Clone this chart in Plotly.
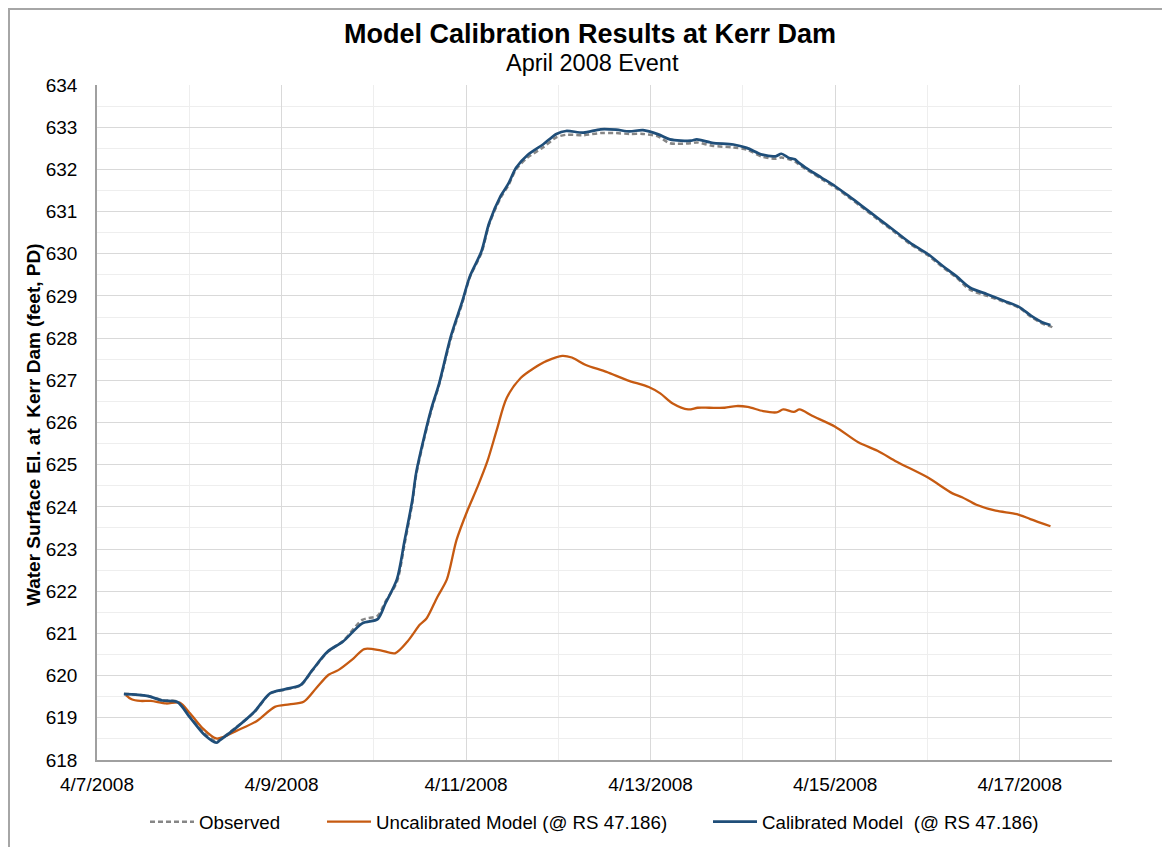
import plotly.graph_objects as go

# DATA
cal_times = [
    "2008-04-07 07:00", "2008-04-07 13:00", "2008-04-07 17:00", "2008-04-07 21:00",
    "2008-04-08 00:00", "2008-04-08 04:00", "2008-04-08 07:00", "2008-04-08 08:00",
    "2008-04-08 12:00", "2008-04-08 17:00", "2008-04-08 21:00", "2008-04-09 01:00",
    "2008-04-09 05:00", "2008-04-09 08:00", "2008-04-09 12:00", "2008-04-09 16:00",
    "2008-04-09 21:00", "2008-04-10 01:00", "2008-04-10 03:00", "2008-04-10 06:00",
    "2008-04-10 08:00", "2008-04-10 10:00", "2008-04-10 11:00", "2008-04-10 13:00",
    "2008-04-10 15:00", "2008-04-10 17:00", "2008-04-10 20:00", "2008-04-10 23:00",
    "2008-04-11 01:00", "2008-04-11 04:00", "2008-04-11 06:00", "2008-04-11 09:00",
    "2008-04-11 11:00", "2008-04-11 13:00", "2008-04-11 16:00", "2008-04-11 20:00",
    "2008-04-11 23:30", "2008-04-12 02:00", "2008-04-12 06:30", "2008-04-12 11:00",
    "2008-04-12 15:00", "2008-04-12 18:30", "2008-04-12 22:00", "2008-04-13 02:00",
    "2008-04-13 05:00", "2008-04-13 10:30", "2008-04-13 12:00", "2008-04-13 16:00",
    "2008-04-13 21:30", "2008-04-14 01:00", "2008-04-14 05:00", "2008-04-14 08:30",
    "2008-04-14 10:00", "2008-04-14 12:00", "2008-04-14 13:30", "2008-04-14 14:30",
    "2008-04-14 17:00", "2008-04-14 20:30", "2008-04-15 00:00", "2008-04-15 03:30",
    "2008-04-15 07:00", "2008-04-15 11:00", "2008-04-15 15:30", "2008-04-15 19:30",
    "2008-04-16 00:00", "2008-04-16 04:00", "2008-04-16 07:30", "2008-04-16 11:00",
    "2008-04-16 15:30", "2008-04-16 20:00", "2008-04-17 00:00", "2008-04-17 03:00",
    "2008-04-17 06:30", "2008-04-17 08:00",
]

calibrated = [
    619.56, 619.52, 619.41, 619.37,
    619.03, 618.59, 618.41, 618.47,
    618.75, 619.15, 619.58, 619.68,
    619.78, 620.13, 620.57, 620.81,
    621.24, 621.34, 621.71, 622.28,
    623.20, 624.15, 624.80, 625.62,
    626.34, 626.93, 628.03, 628.87,
    629.47, 630.06, 630.73, 631.37,
    631.66, 632.04, 632.34, 632.59,
    632.84, 632.91, 632.87, 632.95,
    632.94, 632.90, 632.93, 632.83,
    632.71, 632.68, 632.71, 632.63,
    632.59, 632.51, 632.35, 632.31,
    632.37, 632.27, 632.24, 632.16,
    632.00, 631.80, 631.60, 631.37,
    631.13, 630.85, 630.54, 630.26,
    630.00, 629.71, 629.47, 629.20,
    629.04, 628.88, 628.73, 628.53,
    628.35, 628.31,
]

obs_times = cal_times + ["2008-04-17 08:45"]
observed = [
    619.57, 619.52, 619.42, 619.38,
    619.06, 618.63, 618.44, 618.49,
    618.76, 619.14, 619.57, 619.67,
    619.77, 620.12, 620.56, 620.82,
    621.32, 621.42, 621.75, 622.22,
    623.12, 624.09, 624.75, 625.58,
    626.30, 626.90, 627.98, 628.83,
    629.45, 630.02, 630.70, 631.33,
    631.62, 632.00, 632.28, 632.52,
    632.76, 632.82, 632.81, 632.86,
    632.86, 632.84, 632.84, 632.78,
    632.62, 632.62, 632.64, 632.56,
    632.52, 632.47, 632.30, 632.25,
    632.28, 632.24, 632.19, 632.12,
    631.97, 631.77, 631.57, 631.34,
    631.10, 630.82, 630.51, 630.23,
    629.97, 629.68, 629.44, 629.15,
    629.00, 628.86, 628.71, 628.50,
    628.32, 628.28, 628.24,
]

uncal_times = [
    "2008-04-07 07:30", "2008-04-07 09:00", "2008-04-07 11:15", "2008-04-07 14:00",
    "2008-04-07 18:00", "2008-04-07 21:30", "2008-04-08 00:15", "2008-04-08 03:30",
    "2008-04-08 07:00", "2008-04-08 09:00", "2008-04-08 12:15", "2008-04-08 17:30",
    "2008-04-08 22:15", "2008-04-09 02:00", "2008-04-09 05:45", "2008-04-09 09:00",
    "2008-04-09 12:15", "2008-04-09 14:45", "2008-04-09 18:45", "2008-04-09 21:30",
    "2008-04-10 01:45", "2008-04-10 05:30", "2008-04-10 08:45", "2008-04-10 12:00",
    "2008-04-10 13:45", "2008-04-10 16:30", "2008-04-10 19:00", "2008-04-10 21:30",
    "2008-04-11 00:15", "2008-04-11 03:00", "2008-04-11 05:30", "2008-04-11 08:00",
    "2008-04-11 10:30", "2008-04-11 14:15", "2008-04-11 17:30", "2008-04-11 21:00",
    "2008-04-12 01:00", "2008-04-12 03:30", "2008-04-12 07:00", "2008-04-12 12:30",
    "2008-04-12 18:00", "2008-04-12 23:30", "2008-04-13 02:30", "2008-04-13 05:45",
    "2008-04-13 09:45", "2008-04-13 12:15", "2008-04-13 15:15", "2008-04-13 19:15",
    "2008-04-13 22:15", "2008-04-14 01:15", "2008-04-14 05:15", "2008-04-14 08:45",
    "2008-04-14 10:30", "2008-04-14 13:15", "2008-04-14 14:45", "2008-04-14 18:00",
    "2008-04-15 00:00", "2008-04-15 06:00", "2008-04-15 11:00", "2008-04-15 16:00",
    "2008-04-16 00:00", "2008-04-16 06:30", "2008-04-16 09:00", "2008-04-16 12:45",
    "2008-04-16 17:45", "2008-04-16 23:15", "2008-04-17 02:45", "2008-04-17 08:00",
]

uncalibrated = [
    619.54, 619.44, 619.40, 619.40,
    619.34, 619.36, 619.10, 618.75,
    618.51, 618.55, 618.69, 618.92,
    619.26, 619.32, 619.38, 619.70,
    620.02, 620.13, 620.41, 620.63,
    620.60, 620.53, 620.81, 621.21,
    621.36, 621.86, 622.28, 623.21,
    623.89, 624.48, 625.07, 625.83,
    626.57, 627.06, 627.28, 627.46,
    627.58, 627.54, 627.37, 627.20,
    627.00, 626.84, 626.69, 626.45,
    626.31, 626.35, 626.35, 626.35,
    626.39, 626.37, 626.27, 626.24,
    626.31, 626.25, 626.31, 626.16,
    625.90, 625.53, 625.33, 625.07,
    624.70, 624.32, 624.23, 624.05,
    623.91, 623.83, 623.71, 623.54,
]

FONT = "Arial, Liberation Sans, sans-serif"

# the page body adds an 8px margin, so the figure is a little smaller
OFF = 8
W, H = 1170 - OFF, 847 - OFF
L, R, T, B = 97 - OFF, 58, 85 - OFF, 87
PW, PH = W - L - R, H - T - B


# reference pixel -> paper coords, for text placement
def px(x):
    return (x - OFF - L) / PW


def py(y):
    return (H - B - (y - OFF)) / PH


fig = go.Figure()

fig.add_trace(go.Scatter(
    x=obs_times, y=observed, mode="lines", name="Observed",
    line=dict(color="#868686", width=2.5, dash="5px,3px", shape="spline", smoothing=0.8),
    legend="legend",
))
fig.add_trace(go.Scatter(
    x=uncal_times, y=uncalibrated, mode="lines", name="Uncalibrated Model (@ RS 47.186)",
    line=dict(color="#C65A11", width=2.3, shape="spline", smoothing=0.8),
    legend="legend2",
))
fig.add_trace(go.Scatter(
    x=cal_times, y=calibrated, mode="lines", name="Calibrated Model  (@ RS 47.186)",
    line=dict(color="#1F4E79", width=2.7, shape="spline", smoothing=0.8),
    legend="legend3",
))

leg = dict(orientation="h", yanchor="middle", y=py(822), xanchor="left",
           font=dict(family=FONT, size=18.7, color="#000"), bgcolor="rgba(0,0,0,0)",
           itemwidth=44)

fig.update_layout(
    width=W, height=H,
    margin=dict(l=L, r=R, t=T, b=B, autoexpand=False),
    paper_bgcolor="white", plot_bgcolor="white",
    font=dict(family=FONT, size=18.7, color="#000"),
    showlegend=True,
    legend=dict(leg, x=px(145)),
    legend2=dict(leg, x=px(322)),
    legend3=dict(leg, x=px(708)),
    xaxis=dict(
        type="date",
        range=["2008-04-07", "2008-04-18"],
        tick0="2008-04-07", dtick=2 * 86400000,
        tickformat="%-m/%-d/%Y",
        showgrid=True, gridcolor="#d9d9d9", gridwidth=1,
        minor=dict(dtick=86400000, showgrid=True, gridcolor="#eeeeee"),
        showline=True, linecolor="#a0a0a0", linewidth=1.5,
        ticks="", ticklabelstandoff=6,
        tickfont=dict(family=FONT, size=19, color="#000"),
        zeroline=False,
    ),
    yaxis=dict(
        range=[618, 634], dtick=1,
        showgrid=True, gridcolor="#d9d9d9", gridwidth=1,
        minor=dict(dtick=0.5, showgrid=True, gridcolor="#eeeeee"),
        showline=True, linecolor="#a0a0a0", linewidth=1.5,
        ticks="", ticklabelstandoff=14,
        tickfont=dict(family=FONT, size=19, color="#000"),
        zeroline=False,
    ),
    annotations=[
        dict(text="<b>Model Calibration Results at Kerr Dam</b>", xref="paper", yref="paper",
             x=px(590), y=py(34), xanchor="center", yanchor="middle", showarrow=False,
             font=dict(family=FONT, size=27, color="#000")),
        dict(text="April 2008 Event", xref="paper", yref="paper",
             x=px(592), y=py(63), xanchor="center", yanchor="middle", showarrow=False,
             font=dict(family=FONT, size=23.5, color="#000")),
        dict(text="<b>Water Surface El. at  Kerr Dam (feet, PD)</b>", xref="paper", yref="paper",
             x=px(33), y=py(425), xanchor="center", yanchor="middle", showarrow=False,
             textangle=-90, font=dict(family=FONT, size=19, color="#000")),
    ],
    shapes=[
        # outer chart frame (left/top edges visible)
        dict(type="rect", xref="paper", yref="paper",
             x0=px(9), x1=px(1185), y0=py(870), y1=py(9),
             line=dict(color="#a6a6a6", width=2), fillcolor="rgba(0,0,0,0)", layer="below"),
    ],
)

fig.write_html("out.html")
